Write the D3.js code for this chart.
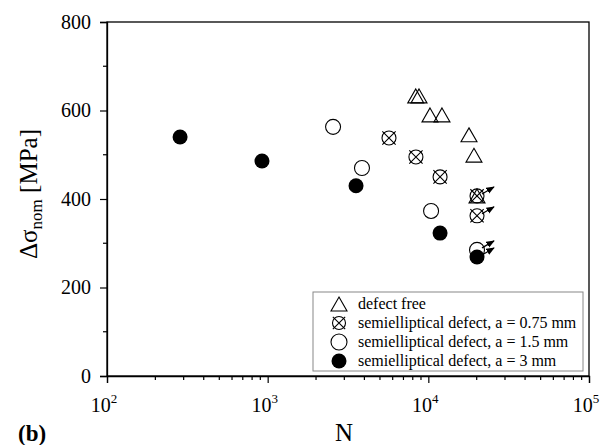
<!DOCTYPE html>
<html><head><meta charset="utf-8">
<script src="https://cdn.jsdelivr.net/npm/d3@7"></script>
<style>body{margin:0;background:#fff}svg{display:block}</style>
</head><body>
<svg id="c" width="612" height="445"></svg>
<script>
// Data
const freeN = [8350, 8750, 10240, 12160, 17910, 19230, 20090];
const freeS = [633, 633, 590, 590, 545, 499, 407];
const d075N = [5690, 8370, 11830, 20090, 20090];
const d075S = [538, 495, 450, 407, 362];
const d15N = [2553, 3864, 10400, 20090];
const d15S = [563, 470, 373, 285];
const d3N = [285, 922, 3548, 11830, 20090];
const d3S = [540, 486, 430, 323, 269];
const runoutN = [20090, 20090, 20090, 20090];
const runoutS = [407, 362, 285, 269];
const xTicks = [100, 1000, 10000, 100000];
const xExp = ["2", "3", "4", "5"];
const yTicks = [0, 200, 400, 600, 800];
const legendLabels = ["defect free", "semielliptical defect, a = 0.75 mm", "semielliptical defect, a = 1.5 mm", "semielliptical defect, a = 3 mm"];

const FONT = "'Liberation Serif', 'Times New Roman', serif";
const svg = d3.select("#c").attr("font-family", FONT);
const x = d3.scaleLog().domain([100, 100000]).range([107, 589]);
const y = d3.scaleLinear().domain([0, 800]).range([376, 22]);

svg.append("defs").append("marker").attr("id","ah").attr("viewBox","0 0 10 10")
  .attr("refX",9).attr("refY",5).attr("markerWidth",7).attr("markerHeight",7)
  .attr("orient","auto").append("path").attr("d","M0,1L10,5L0,9z").attr("fill","#000");

// frame
svg.append("rect").attr("x",107).attr("y",22).attr("width",482).attr("height",354)
  .attr("fill","none").attr("stroke","#000").attr("stroke-width",1.3);

// y axis
const yMinor = d3.range(100, 800, 200);
const gy = svg.append("g").attr("transform","translate(107,0)");
gy.call(d3.axisLeft(y).tickValues(yTicks).tickSize(7).tickPadding(9).tickFormat(d3.format("d")));
gy.attr("font-family", FONT).attr("font-size", 20);
gy.append("g").selectAll("line").data(yMinor).join("line")
  .attr("x1",0).attr("x2",-4).attr("y1",d=>y(d)).attr("y2",d=>y(d)).attr("stroke","#000").attr("stroke-width",1.2);
gy.selectAll(".tick line").attr("stroke-width",1.2);
gy.select(".domain").attr("stroke-width",1.3);
gy.selectAll(".tick text").attr("fill","#000");

// x axis
const gx = svg.append("g").attr("transform","translate(0,376)");
const xMinor = [];
for (let e = 2; e < 5; e++) for (let m = 2; m < 10; m++) xMinor.push(m * Math.pow(10, e));
gx.call(d3.axisBottom(x).tickValues(xTicks).tickSize(7).tickFormat(""));
gx.attr("font-family", FONT);
gx.append("g").selectAll("line").data(xMinor).join("line")
  .attr("x1",d=>x(d)).attr("x2",d=>x(d)).attr("y1",0).attr("y2",4).attr("stroke","#000").attr("stroke-width",1.2);
gx.selectAll(".tick line").attr("stroke-width",1.2);
gx.select(".domain").attr("stroke-width",1.3);
const xl = gx.append("g").selectAll("text").data(xTicks).join("text")
  .attr("x",d=>x(d)-3).attr("y",36).attr("text-anchor","middle")
  .attr("fill","#000").attr("font-size", 20);
xl.append("tspan").text("10");
xl.append("tspan").attr("dy",-9).attr("font-size", 13).text((d,i)=>xExp[i]);

// axis titles
svg.append("text").attr("x",344).attr("y",441).attr("text-anchor","middle")
  .attr("fill","#000").attr("font-size", 25).text("N");
const yt = svg.append("text").attr("transform","translate(37,194) rotate(-90)").attr("text-anchor","middle")
  .attr("fill","#000").attr("font-size", 25);
yt.append("tspan").text("Δσ");
yt.append("tspan").attr("dy",5).attr("font-size", 17).text("nom");
yt.append("tspan").attr("dy",-5).text(" [MPa]");
svg.append("text").attr("x",18).attr("y",441).attr("fill","#000").attr("font-size", 23)
  .attr("font-weight","bold").text("(b)");

// symbols
function tri(g, cx, cy, s) {
  const h = s * 0.87;
  g.append("path").attr("d",`M${cx},${cy-h/2}L${cx+s/2},${cy+h/2}L${cx-s/2},${cy+h/2}Z`)
    .attr("fill","none").attr("stroke","#000").attr("stroke-width",1.1);
}
function xcirc(g, cx, cy, r) {
  g.append("circle").attr("cx",cx).attr("cy",cy).attr("r",r).attr("fill","none").attr("stroke","#000").attr("stroke-width",1.1);
  const k = r * 0.95;
  g.append("path").attr("d",`M${cx-k},${cy-k}L${cx+k},${cy+k}M${cx-k},${cy+k}L${cx+k},${cy-k}`).attr("stroke","#000").attr("stroke-width",1.1);
}
function ocirc(g, cx, cy, r) {
  g.append("circle").attr("cx",cx).attr("cy",cy).attr("r",r).attr("fill","#fff").attr("stroke","#000").attr("stroke-width",1.1);
}
function fcirc(g, cx, cy, r) {
  g.append("circle").attr("cx",cx).attr("cy",cy).attr("r",r).attr("fill","#000");
}
const pts = svg.append("g");
freeN.forEach((n,i)=>tri(pts, x(n), y(freeS[i]), 16));
d075N.forEach((n,i)=>xcirc(pts, x(n), y(d075S[i]), 7));
d15N.forEach((n,i)=>ocirc(pts, x(n), y(d15S[i]), 7.5));
d3N.forEach((n,i)=>fcirc(pts, x(n), y(d3S[i]), 7.5));
runoutN.forEach((n,i)=>{
  const cx = x(n), cy = y(runoutS[i]);
  pts.append("line").attr("x1",cx+5).attr("y1",cy-2).attr("x2",cx+17).attr("y2",cy-9)
    .attr("stroke","#000").attr("stroke-width",1.2).attr("marker-end","url(#ah)");
});

// legend
const lg = svg.append("g");
lg.append("rect").attr("x",313).attr("y",292).attr("width",270).attr("height",79)
  .attr("fill","#fff").attr("stroke","#888").attr("stroke-width",1);
const rowsY = [304, 323, 342, 361];
tri(lg, 339, rowsY[0], 16);
xcirc(lg, 339, rowsY[1], 6.5);
ocirc(lg, 339, rowsY[2], 8);
fcirc(lg, 339, rowsY[3], 7.5);
lg.selectAll("text.l").data(legendLabels).join("text").attr("class","l")
  .attr("x",358).attr("y",(d,i)=>rowsY[i]+5).attr("fill","#000").attr("font-size", 16).text(d=>d);
</script>
</body></html>
